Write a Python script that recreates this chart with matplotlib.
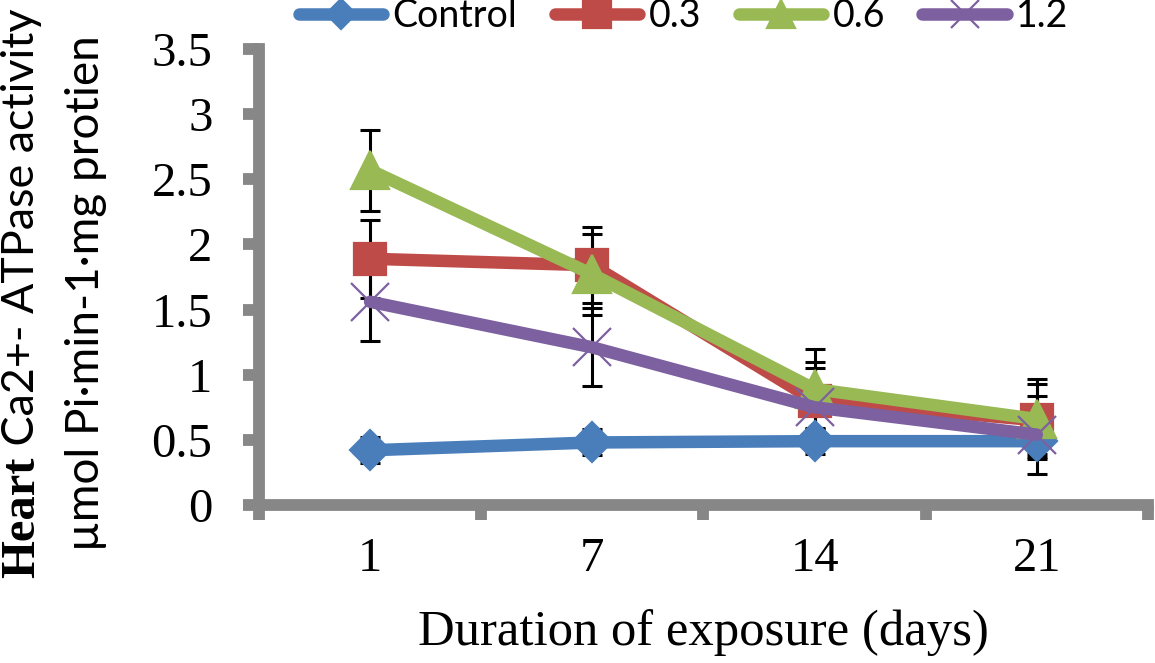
import matplotlib
matplotlib.use("Agg")
import matplotlib.pyplot as plt
from matplotlib.lines import Line2D
import numpy as np

# ---- data ----
days = ["1", "7", "14", "21"]
series_names = ["Control", "0.3", "0.6", "1.2"]
control = [0.42, 0.48, 0.49, 0.49]
dose_03 = [1.89, 1.84, 0.80, 0.65]
dose_06 = [2.57, 1.77, 0.89, 0.66]
dose_12 = [1.56, 1.21, 0.75, 0.54]
err_control = [0.10, 0.10, 0.10, 0.10]
err_03 = [0.30, 0.29, 0.30, 0.28]
err_06 = [0.31, 0.31, 0.31, 0.31]
err_12 = [0.30, 0.30, 0.30, 0.30]
y_ticks = [0, 0.5, 1, 1.5, 2, 2.5, 3, 3.5]
y_tick_labels = ["0", "0.5", "1", "1.5", "2", "2.5", "3", "3.5"]
xlabel_text = "Duration of exposure (days)"
ylabel_bold = "Heart"
ylabel_rest = " Ca2+- ATPase activity"
ylabel_line2 = "\u00b5mol Pi\u00b7min-1\u00b7mg protien"

# ---- styles ----
colors = ["#4A7EBB", "#BE4B48", "#98B954", "#7D60A0"]
markers = ["D", "s", "^", "x"]
msizes = [20, 23, 28, 27]
legend_msizes = [15, 20, 20, 20]
axis_gray = "#878787"
sans = "Lato"
serif = "Liberation Serif"

plt.rcParams["font.family"] = serif

fig = plt.figure(figsize=(11.55, 6.63), dpi=100)
ax = fig.add_axes([0.2242, 0.2383, 0.7697, 0.6878])
x = np.arange(len(days))
values = [control, dose_03, dose_06, dose_12]
errors = [err_control, err_03, err_06, err_12]

for v, e in zip(values, errors):
    ax.errorbar(x, v, yerr=e, fmt="none", ecolor="black", elinewidth=2.2,
                capsize=7, capthick=2.2, zorder=2)

for i, (v, c, m, ms) in enumerate(zip(values, colors, markers, msizes)):
    ax.plot(x, v, color=c, lw=9, marker=m, ms=ms, mfc=c, mec=c,
            mew=1.6, solid_joinstyle="round", solid_capstyle="round",
            zorder=3 + i)

ax.set_xlim(-0.5, 3.5)
ax.set_ylim(0, 3.5)
for s in ["top", "right"]:
    ax.spines[s].set_visible(False)
for s in ["left", "bottom"]:
    ax.spines[s].set_color(axis_gray)
    ax.spines[s].set_linewidth(8.5)
    ax.spines[s].set_capstyle("projecting")

ax.set_yticks(y_ticks, y_tick_labels)
ax.tick_params(axis="y", length=11.5, width=8.5, color=axis_gray, pad=22,
               labelsize=35)
ax.set_xticks(x, days)
ax.tick_params(axis="x", which="major", length=0, pad=23, labelsize=35)
ax.set_xticks(np.arange(-0.5, 4.0, 1.0), minor=True)
ax.tick_params(axis="x", which="minor", length=11, width=8.5, color=axis_gray)
ax.set_xlabel(xlabel_text, fontsize=36.5, family=serif, labelpad=20)

# legend
handles = [Line2D([0], [0], color=c, lw=9, marker=m, ms=lms, mfc=c, mec=c,
                  mew=1.6, solid_capstyle="round")
           for c, m, lms in zip(colors, markers, legend_msizes)]
fig.legend(handles, series_names, loc="center", bbox_to_anchor=(0.592, 0.976),
           ncol=4, frameon=False, prop=dict(family=sans, size=27),
           handlelength=2.25, handletextpad=0.25, columnspacing=1.0,
           numpoints=1, borderpad=0, borderaxespad=0)

# y label, two lines with mixed fonts
t_heart = fig.text(0.0294, 0.5, ylabel_bold, rotation=90, rotation_mode="anchor",
                   ha="left", va="baseline", family=serif, weight="bold", size=35)
t_rest = fig.text(0.0294, 0.5, ylabel_rest, rotation=90, rotation_mode="anchor",
                  ha="left", va="baseline", family=sans, size=32.3)
t_line2 = fig.text(0.0857, 0.5, ylabel_line2, rotation=90, rotation_mode="anchor",
                   ha="left", va="baseline", family=sans, size=33)
fig.canvas.draw()
r = fig.canvas.get_renderer()
H = fig.bbox.height
center = 370.0
w_heart = t_heart.get_window_extent(r).height
w_rest = t_rest.get_window_extent(r).height
w2 = t_line2.get_window_extent(r).height
y0 = center - (w_heart + w_rest) / 2.0
t_heart.set_y(y0 / H)
t_rest.set_y((y0 + w_heart) / H)
t_line2.set_y((center - w2 / 2.0) / H)

fig.savefig("out.png", dpi=100)
